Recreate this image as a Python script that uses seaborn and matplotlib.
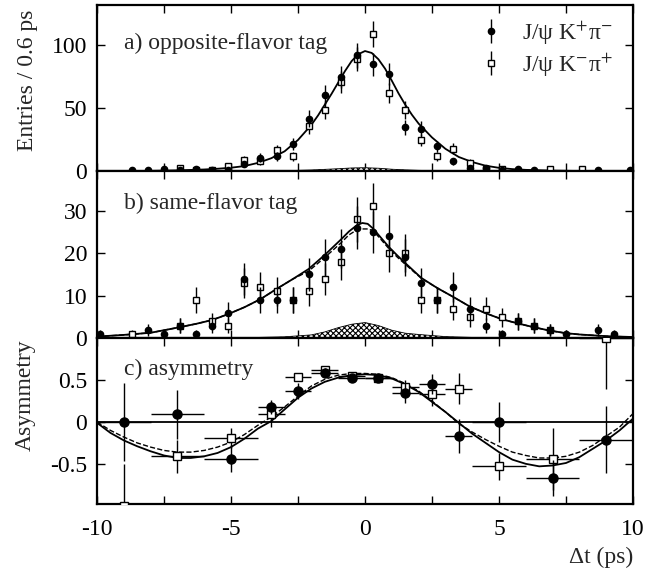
"""B0 -> J/psi K pi: delta-t distributions and mixing asymmetry (3 stacked panels)."""
import matplotlib
matplotlib.use("Agg")
import matplotlib.pyplot as plt
import numpy as np
import seaborn as sns

nan = np.nan

# --- binned counts, 0.6 ps bins -------------------------------------------
bin_t = [-9.9, -9.3, -8.7, -8.1, -7.5, -6.9, -6.3, -5.7, -5.1, -4.5, -3.9, -3.3,
         -2.7, -2.1, -1.5, -0.9, -0.3, 0.3, 0.9, 1.5, 2.1, 2.7, 3.3, 3.9,
         4.5, 5.1, 5.7, 6.3, 6.9, 7.5, 8.1, 8.7, 9.3, 9.9]

# a) opposite-flavor tag
a_kplus = [nan, nan, 1, 1, 2, 1, 2, 1, 1, 6, 11, 12,
           22, 42, 61, 75, 92, 85, 77, 35, 34, 20, 8, 3,
           3, 1, 2, 1, nan, nan, nan, 1, nan, 1]
a_kminus = [nan, nan, nan, nan, nan, 3, 1, 1, 4, 9, 8, 17,
            12, 36, 49, 71, 89, 109, 62, 49, 25, 12, 18, 7,
            2, 2, nan, nan, 2, nan, 2, nan, nan, nan]

# b) same-flavor tag
b_kplus = [1, nan, nan, 2, 1, 3, 1, 3, 6, 14, 9, 9,
           9, 15, 19, 21, 26, 25, 24, 19, 13, 9, 12, 7,
           3, 1, 4, 3, 2, 1, nan, 2, 1, nan]
b_kminus = [nan, nan, 1, nan, nan, 3, 9, 4, 3, 13, 12, 11,
            9, 11, 14, 18, 28, 31, 20, 20, 9, 9, 7, 5,
            7, 5, 4, 3, 2, nan, nan, nan, nan, nan]

# --- fit curves ------------------------------------------------------------
a_fit_t = [-10, -9, -8, -7, -6, -5.5, -5, -4.5, -4, -3.5, -3, -2.5, -2, -1.75,
           -1.5, -1.25, -1, -0.75, -0.5, -0.25, 0, 0.25, 0.5, 0.75, 1, 1.25,
           1.5, 1.75, 2, 2.5, 3, 3.5, 4, 4.5, 5, 5.5, 6, 7, 8, 9, 10]
a_fit = [0.2, 0.3, 0.5, 0.9, 1.6, 2.2, 3.0, 4.3, 6.8, 10.5, 16, 25, 37, 44.5,
         53, 61.5, 70.5, 79.5, 87.5, 93, 95.5, 94, 89, 81.5, 72, 62,
         53, 45, 38, 27, 18, 11.5, 7.5, 4.6, 2.9, 1.9, 1.3, 0.7, 0.4, 0.25, 0.15]

bg_t = [-10, -6, -4, -3, -2, -1.5, -1, -0.5, 0, 0.5, 1, 1.5, 2, 3, 4, 6, 10]
a_bg = [0, 0.1, 0.3, 0.6, 1.2, 1.7, 2.2, 2.8, 3.0, 2.6, 1.8, 1.3, 0.9, 0.5, 0.25, 0.1, 0]
b_bg = [0, 0.05, 0.2, 0.35, 0.8, 1.5, 2.5, 3.3, 3.7, 3.0, 1.9, 1.2, 0.9, 0.4, 0.2, 0.05, 0]

b_fit_t = [-10, -9, -8, -7, -6.3, -5.7, -5.1, -4.5, -3.9, -3.3, -2.7, -2.1, -1.5,
           -1.2, -0.9, -0.6, -0.3, -0.1, 0.1, 0.3, 0.6, 0.9, 1.2, 1.5, 2.1, 2.7,
           3.3, 3.9, 4.5, 5.1, 5.7, 6.3, 6.9, 7.5, 8, 9, 10]
b_fit = [0.4, 0.8, 1.3, 2.5, 3.4, 4.3, 5.7, 7.3, 9.2, 11.6, 13.9, 16.3, 19.6,
         21.4, 23.2, 25.1, 26.6, 27.1, 26.9, 25.8, 23.6, 21.4, 19.5, 17.7, 14.2, 11.8,
         9.7, 7.5, 5.9, 4.5, 3.5, 2.6, 1.8, 1.2, 0.9, 0.5, 0.3]
b_fit_dash = [0.4, 0.8, 1.3, 2.5, 3.4, 4.3, 5.7, 7.3, 9.2, 11.6, 13.9, 15.8, 19.0,
              20.7, 22.4, 24.3, 25.5, 25.7, 25.7, 25.3, 23.2, 21.0, 19.1, 17.4, 14.1, 11.8,
              9.7, 7.5, 5.9, 4.5, 3.5, 2.6, 1.8, 1.2, 0.9, 0.5, 0.3]

# c) asymmetry
c_t = [-9, -7, -5, -3.5, -2.5, -1.5, -0.5, 0.5, 1.5, 2.5, 3.5, 5, 7, 9]
c_terr = [1, 1, 1, 0.5, 0.5, 0.5, 0.5, 0.5, 0.5, 0.5, 0.5, 1, 1, 1]
c_kplus = [0.0, 0.09, -0.44, 0.18, 0.37, 0.59, 0.52, 0.52, 0.35, 0.45, -0.17, 0.0, -0.67, -0.21]
c_kplus_err = [0.47, 0.29, 0.16, 0.08, 0.10, 0.05, 0.04, 0.04, 0.12, 0.12, 0.20, 0.24, 0.22, 0.40]
c_kminus = [-1.0, -0.41, -0.19, 0.09, 0.54, 0.62, 0.55, 0.53, 0.42, 0.34, 0.40, -0.53, -0.44, 1.0]
c_kminus_err = [0.5, 0.20, 0.12, 0.15, 0.05, 0.05, 0.04, 0.04, 0.08, 0.15, 0.18, 0.16, 0.37, 0.6]

c_fit_t = [-10, -9.5, -9, -8.5, -8, -7.5, -7, -6.5, -6, -5.5, -5, -4.5, -4, -3.5,
           -3, -2.5, -2, -1.5, -1, -0.5, 0, 0.5, 1, 1.5, 2, 2.5, 3, 3.5, 4, 4.5,
           5, 5.5, 6, 6.5, 7, 7.5, 8, 8.5, 9, 9.5, 10]
c_fit = [-0.01, -0.13, -0.22, -0.29, -0.35, -0.40, -0.43, -0.43, -0.41, -0.37, -0.30,
         -0.20, -0.08, 0.01, 0.15, 0.29, 0.40, 0.48, 0.53, 0.56, 0.57, 0.56, 0.52,
         0.45, 0.36, 0.24, 0.12, -0.01, -0.14, -0.25, -0.36, -0.45, -0.50, -0.53,
         -0.52, -0.49, -0.42, -0.32, -0.22, -0.10, 0.04]
c_fit_dash = [0.0, -0.10, -0.18, -0.25, -0.30, -0.34, -0.36, -0.36, -0.34, -0.30, -0.24,
              -0.15, -0.04, 0.06, 0.18, 0.31, 0.43, 0.51, 0.56, 0.58, 0.58, 0.57, 0.53,
              0.46, 0.37, 0.25, 0.12, -0.02, -0.12, -0.21, -0.29, -0.36, -0.40, -0.43,
              -0.43, -0.41, -0.36, -0.28, -0.17, -0.06, 0.10]

x_ticks = [-10, -7.5, -5, -2.5, 0, 2.5, 5, 7.5, 10]
x_ticklabels = ["-10", "", "-5", "", "0", "", "5", "", "10"]

# --- style -----------------------------------------------------------------
sns.set_theme(style="ticks")
plt.rcParams["font.family"] = ["Liberation Serif", "DejaVu Serif"]
plt.rcParams["mathtext.fontset"] = "stix"
plt.rcParams["axes.unicode_minus"] = False
plt.rcParams["hatch.linewidth"] = 0.8
FS = 17

fig = plt.figure(figsize=(6.67, 5.71), dpi=100)
L, W = 97 / 667, 536 / 667
ax_a = fig.add_axes([L, 1 - 171.5 / 571, W, 166.5 / 571])
ax_b = fig.add_axes([L, 1 - 338.3 / 571, W, 166.8 / 571])
ax_c = fig.add_axes([L, 1 - 504 / 571, W, 165.7 / 571])


def draw_points(ax, x, yk, yk_err, ym, ym_err, xerr=None, ms_dot=4.5, ms_sq=5):
    sq = ax.errorbar(x, ym, yerr=ym_err, xerr=xerr, fmt="s", ms=ms_sq, mfc="white",
                     mec="black", mew=1, ecolor="black", elinewidth=1, capsize=0, zorder=3)
    dot = ax.errorbar(x, yk, yerr=yk_err, xerr=xerr, fmt="o", ms=ms_dot, color="black",
                      elinewidth=1, capsize=0, zorder=4)
    return dot, sq


# a) opposite-flavor
sns.lineplot(x=a_fit_t, y=a_fit, ax=ax_a, color="black", lw=1.3, sort=False, estimator=None)
ax_a.fill_between(bg_t, 0, a_bg, facecolor="white", edgecolor="black", hatch="xxxxxx", lw=0)
ax_a.plot(bg_t, a_bg, color="black", lw=0.6)
dot, sq = draw_points(ax_a, bin_t, a_kplus, np.sqrt(a_kplus),  # Poisson errors
                      a_kminus, np.sqrt(a_kminus))
ax_a.set_ylim(0, 132)
ax_a.set_yticks([0, 50, 100])
ax_a.text(-9.0, 97.5, "a) opposite-flavor tag", fontsize=FS, va="baseline")
ax_a.legend([dot, sq], [r"J/ψ K$^{+}$π$^{-}$", r"J/ψ K$^{-}$π$^{+}$"],
            loc="upper right", bbox_to_anchor=(0.985, 0.985), frameon=False,
            fontsize=FS, handlelength=1.0, handletextpad=0.8, borderpad=0,
            labelspacing=0.2)

# b) same-flavor
sns.lineplot(x=b_fit_t, y=b_fit, ax=ax_b, color="black", lw=1.3, sort=False, estimator=None)
sns.lineplot(x=b_fit_t, y=b_fit_dash, ax=ax_b, color="black", lw=1.0, linestyle="--",
             sort=False, estimator=None)
ax_b.fill_between(bg_t, 0, b_bg, facecolor="white", edgecolor="black", hatch="xxxxxx", lw=0)
ax_b.plot(bg_t, b_bg, color="black", lw=0.6)
draw_points(ax_b, bin_t, b_kplus, np.sqrt(b_kplus), b_kminus, np.sqrt(b_kminus))
ax_b.set_ylim(0, 39.2)
ax_b.set_yticks([0, 10, 20, 30])
ax_b.text(-9.0, 30.3, "b) same-flavor tag", fontsize=FS, va="baseline")

# c) asymmetry
ax_c.axhline(0, color="black", lw=1.3)
sns.lineplot(x=c_fit_t, y=c_fit, ax=ax_c, color="black", lw=1.3, sort=False, estimator=None)
sns.lineplot(x=c_fit_t, y=c_fit_dash, ax=ax_c, color="black", lw=1.0, linestyle="--",
             sort=False, estimator=None)
draw_points(ax_c, c_t, c_kplus, c_kplus_err, c_kminus, c_kminus_err, xerr=c_terr,
            ms_dot=6.5, ms_sq=6)
ax_c.set_ylim(-0.98, 1.0)
ax_c.set_yticks([-0.5, 0, 0.5])
ax_c.set_yticklabels(["-0.5", "0", "0.5"])
ax_c.text(-9.0, 0.556, "c) asymmetry", fontsize=FS, va="baseline")

for ax in (ax_a, ax_b, ax_c):
    ax.set_xlim(-10, 10)
    ax.set_xticks(x_ticks)
    ax.set_xticklabels(x_ticklabels if ax is ax_c else [""] * len(x_ticks))
    ax.tick_params(direction="in", top=True, right=True, length=6, width=1,
                   labelsize=FS, colors="black")
    ax.tick_params(axis="x", pad=11)
    ax.tick_params(axis="y", pad=7)
    ax.set_xlabel("")
    ax.set_ylabel("")
    for sp in ax.spines.values():
        sp.set_linewidth(1.6)
        sp.set_color("black")
        sp.set_visible(True)

fig.text(28 / 667, 1 - 80 / 571, "Entries / 0.6 ps", rotation=90, fontsize=FS,
         ha="center", va="center")
fig.text(25 / 667, 1 - 395 / 571, "Asymmetry", rotation=90, fontsize=FS,
         ha="center", va="center")
fig.text(633 / 667, 1 - 557 / 571, "Δt (ps)", fontsize=FS, ha="right", va="center")

fig.savefig("out.png", dpi=100)
